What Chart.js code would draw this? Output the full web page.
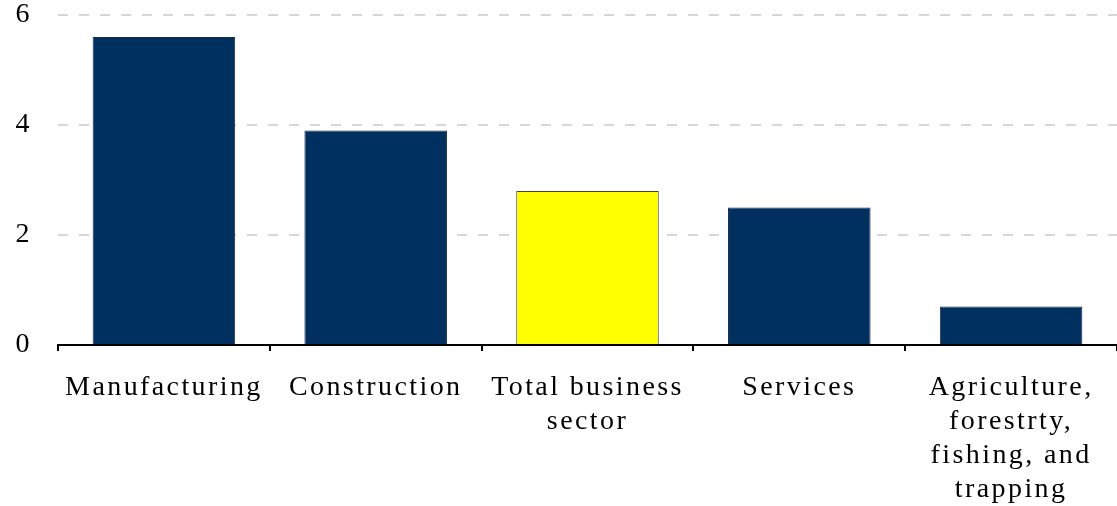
<!DOCTYPE html>
<html>
<head>
<meta charset="utf-8">
<script src="https://cdn.jsdelivr.net/npm/chart.js@4"></script>
<style>
  html, body { margin: 0; padding: 0; background: #fff; }
  #wrap { width: 1117px; height: 506px; }
</style>
</head>
<body>
<div id="wrap"><canvas id="sectorChart" width="1117" height="506"></canvas></div>
<script>
// Chart data
const categories = [
  'Manufacturing',
  'Construction',
  ['Total business', 'sector'],
  'Services',
  ['Agriculture,', 'forestrty,', 'fishing, and', 'trapping']
];
const values = [5.6, 3.9, 2.8, 2.5, 0.7];
const barColors = ['#003060', '#003060', '#ffff00', '#003060', '#003060'];
const barBorders = ['#1a2a48', '#1a2a48', '#444444', '#1a2a48', '#1a2a48'];
const yTicks = [0, 2, 4, 6];

// stretched serif look of the original
const spacingPlugin = {
  id: 'spacing',
  beforeDraw(chart) { chart.ctx.letterSpacing = '2.4px'; }
};

const serif = "'Liberation Serif', 'Times New Roman', serif";

new Chart(document.getElementById('sectorChart'), {
  type: 'bar',
  data: {
    labels: categories,
    datasets: [{
      data: values,
      backgroundColor: barColors,
      borderColor: barBorders,
      borderWidth: 1,
      barPercentage: 0.673,
      categoryPercentage: 1.0
    }]
  },
  plugins: [spacingPlugin],
  options: {
    responsive: false,
    animation: false,
    layout: { padding: { top: 15, right: -4, left: 0, bottom: 0 } },
    plugins: { legend: { display: false }, tooltip: { enabled: false } },
    scales: {
      x: {
        grid: { drawOnChartArea: false, drawTicks: true, tickLength: 6, color: '#000', lineWidth: 2 },
        border: { display: true, color: '#000', width: 2 },
        ticks: { color: '#000', padding: 20, maxRotation: 0, autoSkip: false, font: { family: serif, size: 28, lineHeight: '34px' } },
        afterFit(scale) { scale.height = 161; }
      },
      y: {
        min: 0,
        max: 6,
        afterBuildTicks(scale) { scale.ticks = yTicks.map(v => ({ value: v })); },
        grid: { color: '#d6d6d6', lineWidth: 2, drawTicks: false },
        border: { display: false, dash: [10, 11] },
        ticks: { color: '#000', padding: 26, font: { family: serif, size: 28 } },
        afterFit(scale) { scale.width = 58; scale.paddingTop = 0; scale.paddingBottom = 0; }
      }
    }
  }
});
</script>
</body>
</html>
